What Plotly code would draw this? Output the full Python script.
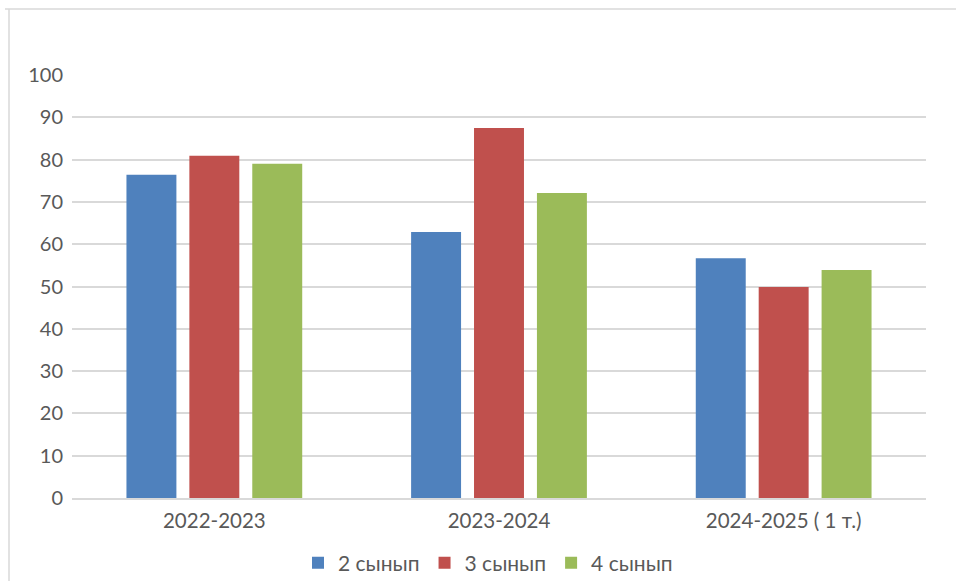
import plotly.graph_objects as go

categories = ["2022-2023", "2023-2024", "2024-2025 ( 1 т.)"]
series_names = ["2 сынып", "3 сынып", "4 сынып"]
values_2 = [76.4, 62.9, 56.7]
values_3 = [80.9, 87.5, 49.9]
values_4 = [79.0, 72.1, 53.9]
colors = ["#4F81BD", "#C0504D", "#9BBB59"]

W, H = 956, 581
L, R, T, B = 72, 30, 75, 83

fig = go.Figure()
for name, vals, c in zip(series_names, [values_2, values_3, values_4], colors):
    fig.add_trace(go.Bar(x=categories, y=vals, name=name, marker_color=c,
                         marker_line_width=0))

pw = W - L - R
ph = H - T - B
def px_to_paper_x(px):
    return (px - L) / pw
def px_to_paper_y(py):
    return 1 - (py - T) / ph

fig.update_layout(
    width=W, height=H,
    margin=dict(l=L, r=R, t=T, b=B, autoexpand=False),
    paper_bgcolor="white", plot_bgcolor="white",
    barmode="group", bargap=0.337, bargroupgap=0.206,
    font=dict(family="Lato", size=20, color="#595959"),
    showlegend=True,
    legend=dict(orientation="h", x=px_to_paper_x(298), xanchor="left",
                y=px_to_paper_y(563), yanchor="middle",
                font=dict(size=21, color="#595959"),
                itemwidth=30, traceorder="normal"),
    xaxis=dict(showgrid=False, showline=True, linecolor="#d9d9d9", linewidth=1.5,
               ticks="", ticklabelstandoff=4, tickfont=dict(size=20.5, color="#595959")),
    yaxis=dict(range=[0, 100], dtick=10, showgrid=True, gridcolor="#d9d9d9",
               gridwidth=1.5, zeroline=False, showline=False, ticks="",
               ticklabelstandoff=8,
               tickfont=dict(size=20, color="#595959")),
    shapes=[
        dict(type="line", xref="paper", yref="paper",
             x0=px_to_paper_x(5), x1=px_to_paper_x(W + 5),
             y0=px_to_paper_y(9), y1=px_to_paper_y(9),
             line=dict(color="#d9d9d9", width=1.5)),
        dict(type="line", xref="paper", yref="paper",
             x0=px_to_paper_x(9), x1=px_to_paper_x(9),
             y0=px_to_paper_y(9), y1=px_to_paper_y(H + 5),
             line=dict(color="#d9d9d9", width=1.5)),
    ],
)

fig.write_html("out.html", config={"displayModeBar": False},
               post_script="document.body.style.margin='0';document.body.style.padding='0';")
